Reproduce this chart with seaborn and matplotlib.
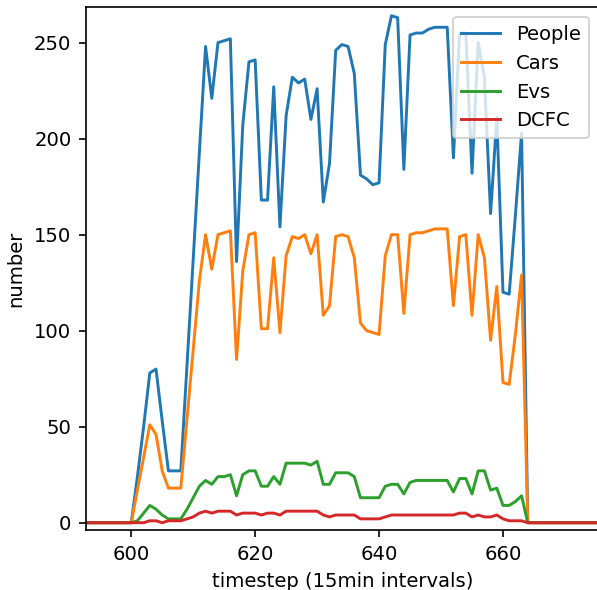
import pandas as pd
import matplotlib
matplotlib.use("Agg")
import matplotlib.pyplot as plt
import seaborn as sns

# --- data (one value per 15min timestep) ---
timesteps = list(range(592, 677))

people = [0] * 8 + [
    0, 24, 50, 78, 80, 53, 27, 27, 27, 82,
    137, 193, 248, 221, 250, 251, 252, 136, 207, 240,
    241, 168, 168, 227, 154, 212, 232, 229, 231, 210,
    226, 167, 187, 246, 249, 248, 234, 181, 179, 176,
    177, 249, 264, 263, 184, 254, 255, 255, 257, 258,
    258, 258, 190, 255, 255, 182, 250, 232, 161, 211,
    120, 119, 160, 203, 0] + [0] * 12

cars = [0] * 8 + [
    0, 17, 34, 51, 46, 27, 18, 18, 18, 54,
    90, 126, 150, 132, 150, 151, 152, 85, 131, 150,
    151, 101, 101, 138, 99, 139, 149, 148, 150, 140,
    150, 108, 113, 149, 150, 149, 138, 104, 100, 99,
    98, 139, 150, 150, 109, 150, 151, 151, 152, 153,
    153, 153, 113, 149, 150, 108, 150, 138, 95, 123,
    73, 72, 98, 129, 0] + [0] * 12

evs = [0] * 8 + [
    0, 1, 5, 9, 7, 4, 2, 2, 2, 7,
    13, 19, 22, 20, 24, 24, 25, 14, 25, 27,
    27, 19, 19, 24, 20, 31, 31, 31, 31, 30,
    32, 20, 20, 26, 26, 26, 24, 13, 13, 13,
    13, 19, 20, 20, 15, 21, 22, 22, 22, 22,
    22, 22, 16, 23, 23, 15, 27, 27, 17, 18,
    9, 9, 11, 14, 0] + [0] * 12

dcfc = [0] * 8 + [
    0, 0, 0, 1, 1, 0, 1, 1, 1, 2,
    3, 5, 6, 5, 6, 6, 6, 4, 5, 5,
    5, 4, 5, 5, 4, 6, 6, 6, 6, 6,
    6, 4, 3, 4, 4, 4, 4, 2, 2, 2,
    2, 3, 4, 4, 4, 4, 4, 4, 4, 4,
    4, 4, 4, 5, 5, 3, 4, 3, 3, 4,
    2, 1, 1, 1, 0] + [0] * 12

series = {"People": people, "Cars": cars, "Evs": evs, "DCFC": dcfc}

# long format for seaborn
frames = []
for name, vals in series.items():
    frames.append(pd.DataFrame({"timestep": timesteps, "number": vals, "series": name}))
df = pd.concat(frames, ignore_index=True)

plt.rcParams["font.size"] = 9.4

fig = plt.figure(figsize=(597 / 150, 590 / 150), dpi=150)
ax = fig.add_axes([86 / 597, 60 / 590, 512.4 / 597, 522.7 / 590])

sns.lineplot(data=df, x="timestep", y="number", hue="series",
             hue_order=list(series.keys()), palette="tab10",
             linewidth=1.4, ax=ax)

ax.set_xlim(592.7, 675.4)
ax.set_ylim(-3.8, 268.4)
ax.set_xticks([600, 620, 640, 660])
ax.set_yticks([0, 50, 100, 150, 200, 250])
ax.set_xlabel("timestep (15min intervals)")
ax.set_ylabel("number")

handles, labels = ax.get_legend_handles_labels()
ax.legend(handles, labels, loc="upper right")

fig.savefig("out.png", dpi=150)
